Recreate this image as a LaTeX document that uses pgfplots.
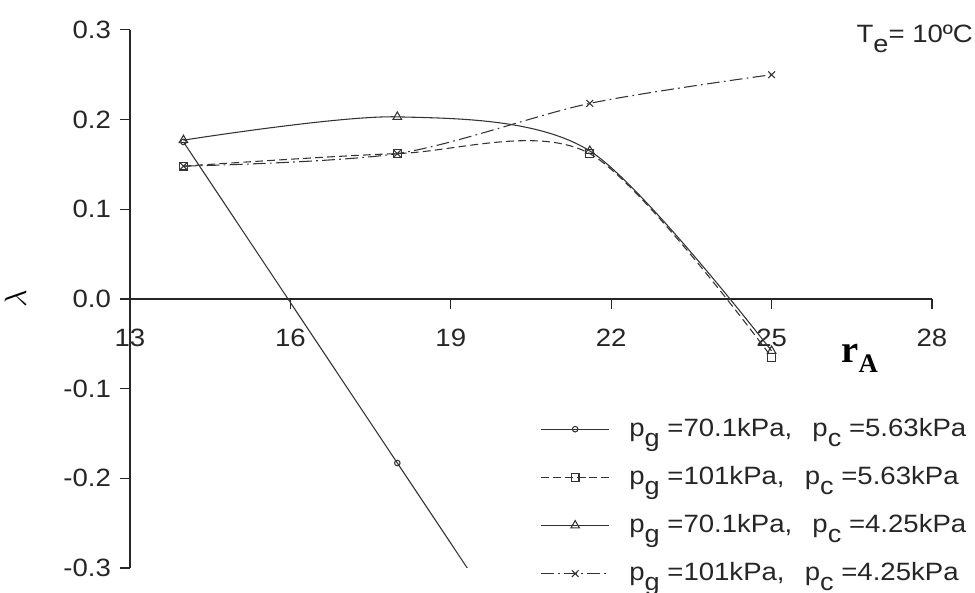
\documentclass[border=0pt]{standalone}
\usepackage{fontspec}
\setmainfont{Liberation Sans}[FakeStretch=1.1]
\newfontfamily\serifbf{Liberation Serif}
\usepackage{pgfplots}
\pgfplotsset{compat=1.18}
\newcommand{\sub}[1]{\raisebox{-0.75ex}{\fontsize{11.5}{12}\selectfont #1}}
\begin{document}
\fontsize{11.7}{14}\selectfont
\begin{tikzpicture}
\begin{axis}[
  name=ax,
  scale only axis,
  width=13.16cm, height=8.83cm,
  xmin=13, xmax=28, ymin=-0.3, ymax=0.3,
  axis x line=middle, axis y line=left,
  axis line style={-, black!85, line width=0.6pt},
  tick align=outside,
  major tick length=0.17cm,
  tick style={black!85, line width=0.6pt},
  xtick={13,16,19,22,25,28},
  ytick={-0.3,-0.2,-0.1,0,0.1,0.2,0.3},
  hide obscured x ticks=false,
  minor tick num=0,
  /pgf/number format/assume math mode=true,
  yticklabel style={/pgf/number format/.cd, fixed, fixed zerofill, precision=1},
  xticklabel style={yshift=-0.18cm},
  ticklabel style={font=\fontsize{11.7}{14}\selectfont, text=black!85},
  ylabel={$\lambda$},
  every axis y label/.style={at={(rel axis cs:0,0.5)}, xshift=-1.88cm, rotate=90, anchor=center, font=\Large},
  clip mode=individual,
  legend cell align=left,
  legend style={draw=none, fill=none, at={(axis cs:20.55,-0.123)}, anchor=north west,
    font=\fontsize{11.7}{14}\selectfont, row sep=0.29cm, text=black!85},
  legend image code/.code={\draw[mark indices={2}] plot coordinates {(0cm,0cm)(0.56cm,0cm)(1.12cm,0cm)};},
]
  %% p_g = 70.1 kPa, p_c = 5.63 kPa
  \addplot[black!80, line width=0.5pt, mark=o, mark size=1.3pt, mark indices={1,2}]
    coordinates {(14,0.175)(18,-0.183)(19.33,-0.302)};
  \addlegendentry{\hspace{0.25cm}p\sub{g} =70.1kPa,\hspace{0.5em} p\sub{c} =5.63kPa}
  %% p_g = 101 kPa, p_c = 5.63 kPa
  \addplot[black!80, line width=0.5pt, smooth, dash pattern=on 3.6pt off 2pt,
    mark=square, mark size=1.8pt, mark options={solid}]
    coordinates {(14,0.148)(18,0.162)(21.6,0.162)(25,-0.065)};
  \addlegendentry{\hspace{0.25cm}p\sub{g} =101kPa,\hspace{0.5em} p\sub{c} =5.63kPa}
  %% p_g = 70.1 kPa, p_c = 4.25 kPa
  \addplot[black!80, line width=0.5pt, smooth, mark=triangle, mark size=2.3pt, mark options={solid}]
    coordinates {(14,0.177)(18,0.203)(21.6,0.165)(25,-0.058)};
  \addlegendentry{\hspace{0.25cm}p\sub{g} =70.1kPa,\hspace{0.5em} p\sub{c} =4.25kPa}
  %% p_g = 101 kPa, p_c = 4.25 kPa
  \addplot[black!80, line width=0.5pt, smooth, dash pattern=on 6pt off 2pt on 0.8pt off 2pt,
    mark=x, mark size=2.2pt, mark options={solid}]
    coordinates {(14,0.148)(18,0.162)(21.6,0.218)(25,0.25)};
  \addlegendentry{\hspace{0.25cm}p\sub{g} =101kPa,\hspace{0.5em} p\sub{c} =4.25kPa}

  \node[anchor=east, text=black!85] at (axis cs:28.93,0.29) {T\sub{e}= 10ºC};
  \node at (axis cs:26.65,-0.066) {\serifbf\bfseries\fontsize{18}{19}\selectfont r\raisebox{-0.55ex}{\fontsize{12.5}{13}\selectfont A}};
  \coordinate (bl) at (rel axis cs:0,0);
  \coordinate (tr) at (rel axis cs:1,1);
\end{axis}
\pgfresetboundingbox
\path[use as bounding box] ([xshift=-2.133cm,yshift=-0.41cm]bl) rectangle ([xshift=0.706cm,yshift=0.49cm]tr);
\end{tikzpicture}
\end{document}
